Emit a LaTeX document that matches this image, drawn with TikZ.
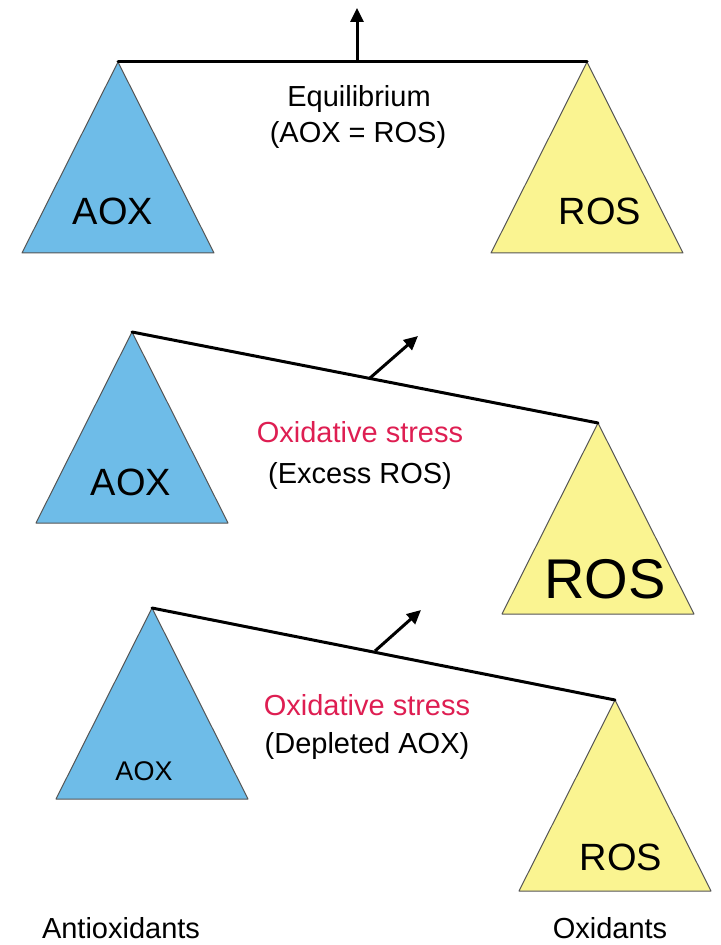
\documentclass[tikz,border=0pt]{standalone}
\usepackage{fontspec}
\setmainfont{Liberation Sans}
\usetikzlibrary{arrows.meta}
\definecolor{AoxBlue}{RGB}{110,188,232}
\definecolor{RosYellow}{RGB}{250,244,145}
\definecolor{StressRed}{RGB}{222,30,82}
\definecolor{EdgeGray}{RGB}{85,85,85}

\begin{document}
\begin{tikzpicture}[x=0.5pt,y=-0.5pt,
    beam/.style={line width=1.5pt,line cap=round,line join=round},
    tilt/.style={line width=1.5pt,-{Triangle[length=7pt,width=6.5pt]}},
    pan/.style={draw=EdgeGray,line width=0.5pt,line join=round},
    txt/.style={font=\fontsize{14.5}{16}\selectfont,anchor=base,inner sep=1pt},
    big/.style={anchor=base,inner sep=1pt,font=\fontsize{#1}{#1}\selectfont}]
        \useasboundingbox (0,0) rectangle (720,945);

        % three balances: name / left end / right end / arrow foot / arrow tip
        \foreach \n/\lx/\ly/\rx/\ry/\mx/\my/\tx/\ty in {eq/118/62/587/62/357/62/357/8,
                                                          ex/132/332/598/423/370/378/418/336,
                                                          dep/152/608/615/700/375/651/421/610} {
          \coordinate (\n-l) at (\lx,\ly);
          \coordinate (\n-r) at (\rx,\ry);
          \coordinate (\n-m) at (\mx,\my);
          \coordinate (\n-t) at (\tx,\ty);
          \filldraw[pan,fill=AoxBlue] (\n-l) -- ++(-96,191) -- ++(192,0) -- cycle;
          \filldraw[pan,fill=RosYellow] (\n-r) -- ++(-96,191) -- ++(192,0) -- cycle;
          \draw[beam] (\n-l) -- (\n-r);
          \draw[tilt] (\n-m) -- (\n-t);
        }

        % top: balanced
        \node[txt] (eqA) at (359,107) {Equilibrium};
        \node[txt] (eqB) at (358,143) {(AOX = ROS)};
        \node[big=19] (eqAox) at (113,225) {AOX};
        \node[big=19] (eqRos) at (600,225) {ROS};

        % middle: too much ROS
        \node[txt,text=StressRed] (exA) at (360,443) {Oxidative stress};
        \node[txt] (exB) at (360,483) {(Excess ROS)};
        \node[big=19] (exAox) at (131,495) {AOX};
        \node[big=28] (exRos) at (605,598) {ROS};

        % bottom: too little AOX
        \node[txt,text=StressRed] (depA) at (367,715) {Oxidative stress};
        \node[txt] (depB) at (367,753) {(Depleted AOX)};
        \node[big=13.5] (depAox) at (144,780) {AOX};
        \node[big=19] (depRos) at (621,870) {ROS};

        \node[txt] (anti) at (121,938) {Antioxidants};
        \node[txt] (oxi) at (610,938) {Oxidants};
      \end{tikzpicture}
\end{document}
